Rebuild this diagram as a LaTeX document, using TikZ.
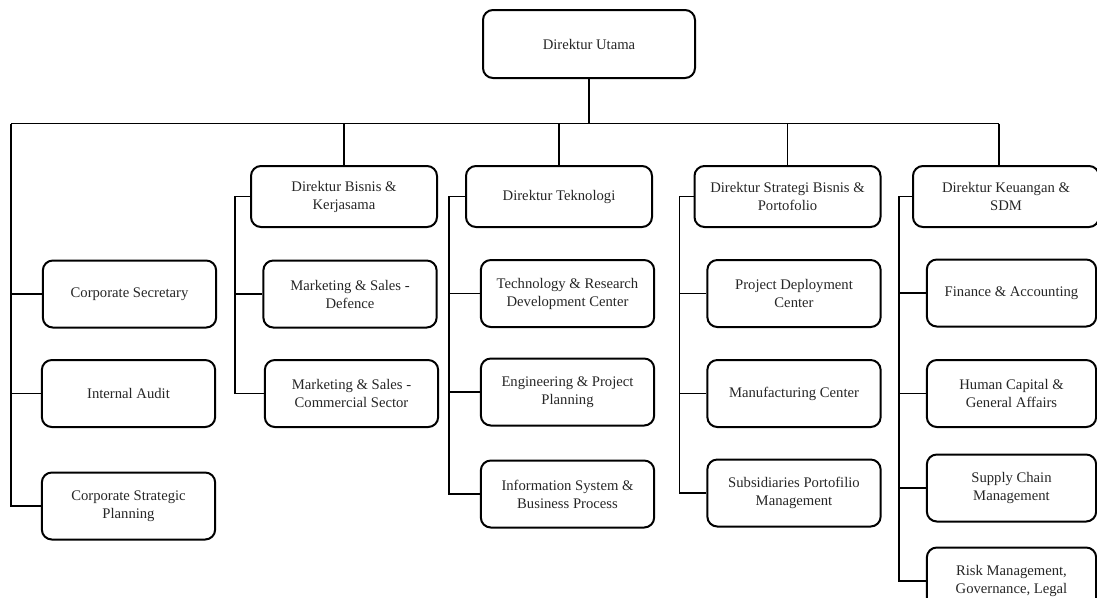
\documentclass[tikz,border=0pt]{standalone}
\usepackage{fontspec}
\setmainfont{Liberation Serif}
\begin{document}
\begin{tikzpicture}[x=0.75pt,y=-0.75pt,
  box/.style={draw=black,line width=1.5pt,rounded corners=7.5pt,align=center,inner sep=0pt,
    font=\fontsize{11}{13.5}\selectfont,text=black!85},
  topbox/.style={box,minimum width=159pt,minimum height=51pt},
  dirbox/.style={box,minimum width=139.5pt,minimum height=45.75pt},
  unitbox/.style={box,minimum width=130pt,minimum height=50.25pt},
  link/.style={draw=black,line width=1.3pt}]
\useasboundingbox (0,0) rectangle (1097,597);
% top
\node[topbox] (utama) at (589,44) {Direktur Utama};
% directors
\node[dirbox] (bis) at (344,196.5) {Direktur Bisnis \&\\Kerjasama};
\node[dirbox] (tek) at (559,196.5) {Direktur Teknologi};
\node[dirbox] (str) at (787.5,196.5) {Direktur Strategi Bisnis \&\\Portofolio};
\node[dirbox] (keu) at (1006,196.5) {Direktur Keuangan \&\\SDM};
% left column
\node[unitbox] (cs) at (129.5,294) {Corporate Secretary};
\node[unitbox] (ia) at (128.5,393.5) {Internal Audit};
\node[unitbox] (csp) at (128.5,506) {Corporate Strategic\\Planning};
% bisnis
\node[unitbox] (mk1) at (350,294) {Marketing \& Sales -\\Defence};
\node[unitbox] (mk2) at (351.5,393.5) {Marketing \& Sales -\\Commercial Sector};
% teknologi
\node[unitbox] (trd) at (567.5,293.5) {Technology \& Research\\Development Center};
\node[unitbox] (epp) at (567.5,392) {Engineering \& Project\\Planning};
\node[unitbox] (isb) at (567.5,494) {Information System \&\\Business Process};
% strategi
\node[unitbox] (pdc) at (794,293.5) {Project Deployment\\Center};
\node[unitbox] (mfc) at (794,393.5) {Manufacturing Center};
\node[unitbox] (spm) at (794,493) {Subsidiaries Portofilio\\Management};
% keuangan
\node[unitbox,minimum width=127pt] (fa) at (1011.5,293) {Finance \& Accounting};
\node[unitbox,minimum width=127pt] (hc) at (1011.5,393.5) {Human Capital \&\\General Affairs};
\node[unitbox,minimum width=127pt] (scm) at (1011.5,488) {Supply Chain\\Management};
\node[unitbox,minimum width=127pt] (rm) at (1011.5,581) {Risk Management,\\Governance, Legal};
% bus
\coordinate (busL) at (11,123.5);
\coordinate (busR) at (999,123.5);
\draw[link] (busL) -- (busR);
\draw[link] (utama.south) -- (utama.south |- busL);
\draw[link] (busL) |- (csp.west);
\draw[link] (busL |- cs.west) -- (cs.west);
\draw[link] (busL |- ia.west) -- (ia.west);
\draw[link] (bis.north |- busL) -- (bis.north);
\draw[link] (tek.north |- busL) -- (tek.north);
\draw[link] (str.north |- busL) -- (str.north);
\draw[link] (busR) -- (busR |- keu.north);
% bisnis branch
\draw[link] (bis.west) -- ([xshift=-11.25pt]bis.west) |- (mk2.west);
\draw[link] ([xshift=-11.25pt]bis.west |- mk1.west) -- (mk1.west);
% teknologi branch
\draw[link] (tek.west) -- ([xshift=-12pt]tek.west) |- (isb.west);
\draw[link] ([xshift=-12pt]tek.west |- trd.west) -- (trd.west);
\draw[link] ([xshift=-12pt]tek.west |- epp.west) -- (epp.west);
% strategi branch
\draw[link] (str.west) -- ([xshift=-10.5pt]str.west) |- (spm.west);
\draw[link] ([xshift=-10.5pt]str.west |- pdc.west) -- (pdc.west);
\draw[link] ([xshift=-10.5pt]str.west |- mfc.west) -- (mfc.west);
% keuangan branch
\draw[link] (keu.west) -- ([xshift=-10pt]keu.west) |- (rm.west);
\draw[link] ([xshift=-10pt]keu.west |- fa.west) -- (fa.west);
\draw[link] ([xshift=-10pt]keu.west |- hc.west) -- (hc.west);
\draw[link] ([xshift=-10pt]keu.west |- scm.west) -- (scm.west);
\end{tikzpicture}
\end{document}
